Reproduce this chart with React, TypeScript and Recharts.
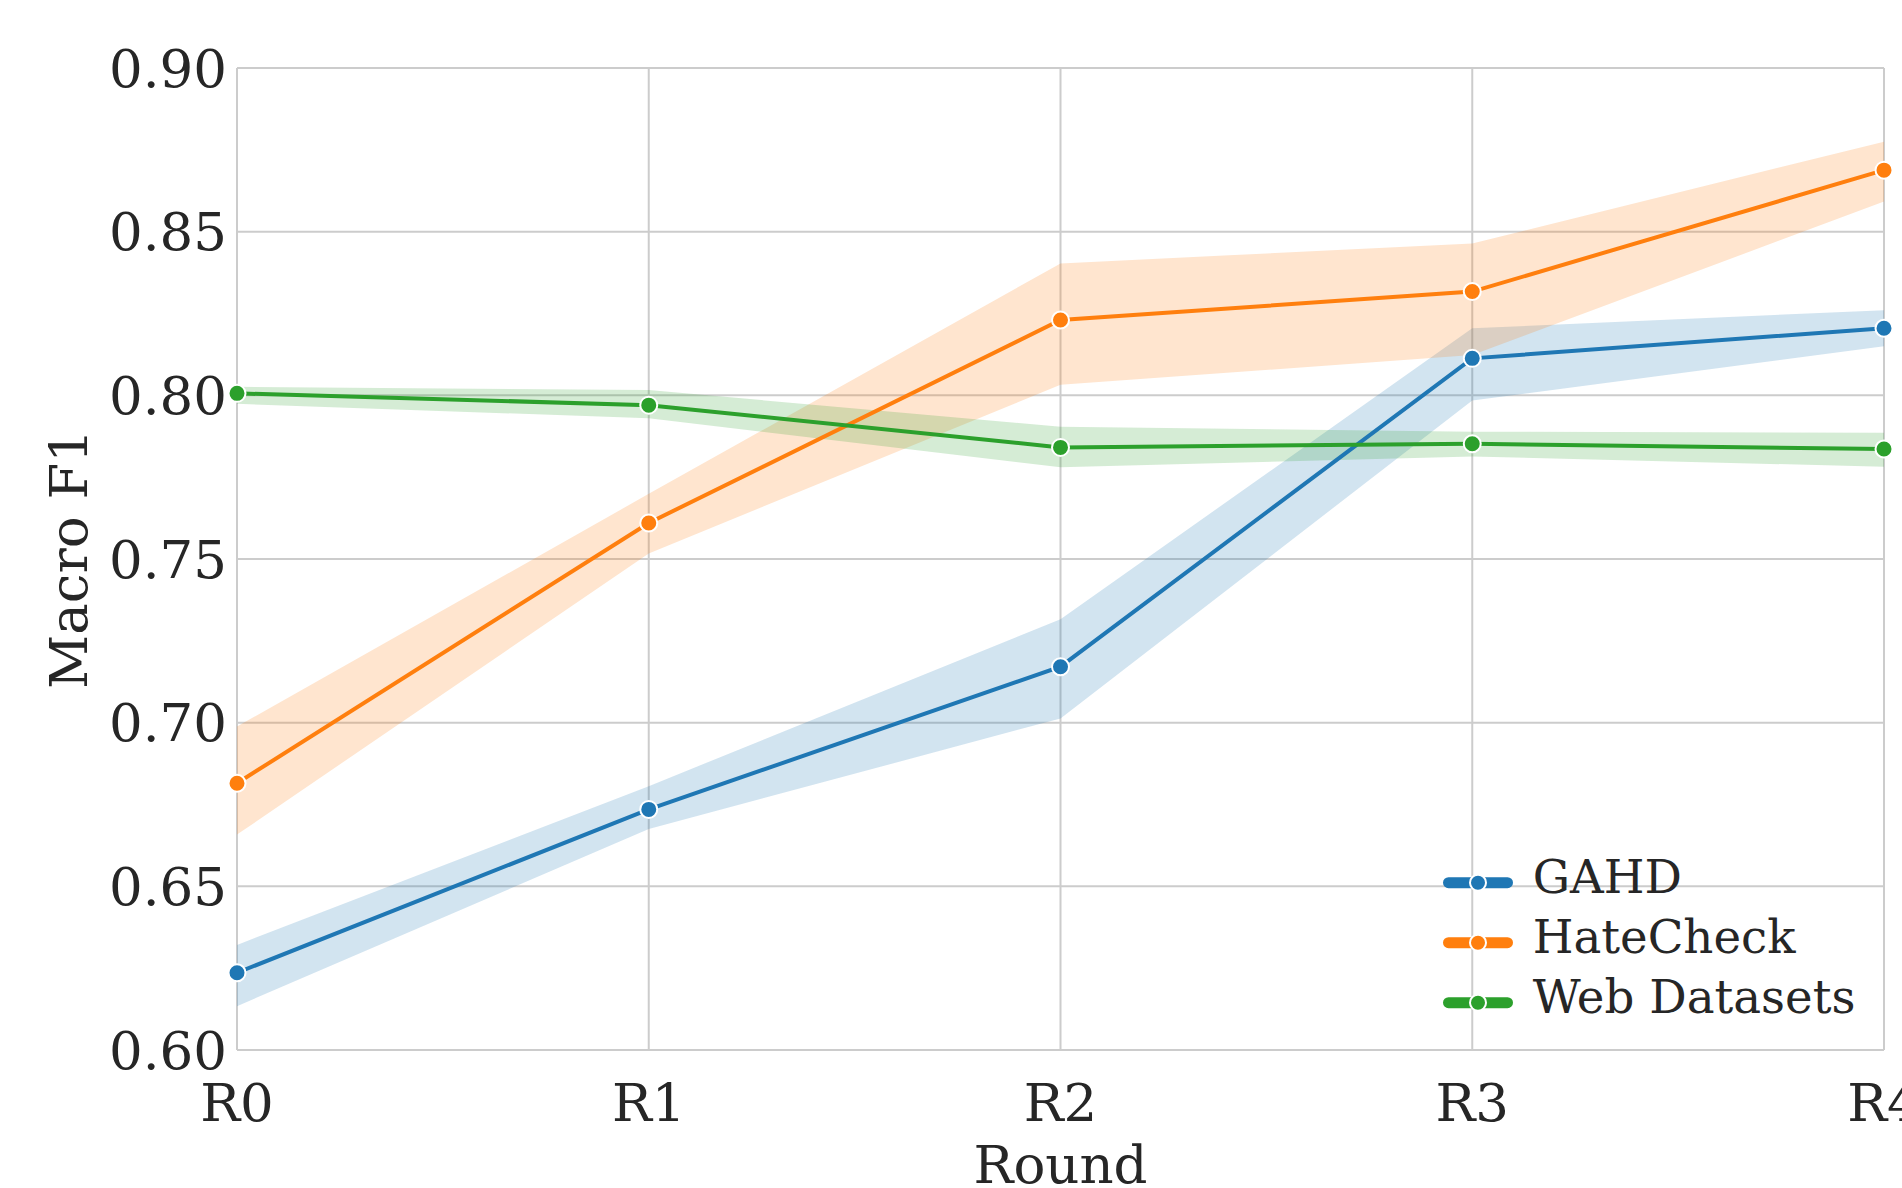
import React from 'react';
import { ComposedChart, Line, Area, XAxis, YAxis, CartesianGrid, Legend, Label } from 'recharts';

const rounds = ['R0', 'R1', 'R2', 'R3', 'R4'];
const yTicks = [0.6, 0.65, 0.7, 0.75, 0.8, 0.85, 0.9];

const gahdMean = [0.6236, 0.6735, 0.7171, 0.8113, 0.8205];
const gahdLow = [0.6134, 0.6675, 0.7013, 0.7984, 0.815];
const gahdHigh = [0.6321, 0.6806, 0.7316, 0.8205, 0.826];

const hateMean = [0.6815, 0.761, 0.823, 0.8317, 0.8688];
const hateLow = [0.6658, 0.7517, 0.8032, 0.8123, 0.8592];
const hateHigh = [0.6988, 0.7699, 0.8403, 0.8464, 0.8775];

const webMean = [0.8006, 0.797, 0.7841, 0.7852, 0.7836];
const webLow = [0.7974, 0.793, 0.778, 0.7813, 0.7782];
const webHigh = [0.8026, 0.8016, 0.7904, 0.7889, 0.7886];

const series = [
    { key: 'gahd', name: 'GAHD', color: '#1f77b4' },
    { key: 'hate', name: 'HateCheck', color: '#ff7f0e' },
    { key: 'web', name: 'Web Datasets', color: '#2ca02c' },
];

const data = rounds.map((r, i) => ({
    round: r,
    gahd: gahdMean[i],
    gahdBand: [gahdLow[i], gahdHigh[i]],
    hate: hateMean[i],
    hateBand: [hateLow[i], hateHigh[i]],
    web: webMean[i],
    webBand: [webLow[i], webHigh[i]],
}));

const FONT = 'DejaVu Serif';
const TEXT = '#262626';

function renderLegend() {
    return (
        <svg width={466} height={200} style={{ display: 'block' }}>
            {series.map((s, i) => {
                const cy = 42.7 + i * 60;
                return (
                    <g key={s.key}>
                        <line x1={12.5} x2={71.5} y1={cy} y2={cy} stroke={s.color} strokeWidth={11} strokeLinecap="round" />
                        <circle cx={42} cy={cy} r={8} fill={s.color} stroke="#fff" strokeWidth={2} />
                        <text x={96.7} y={cy + 10} fontSize={46.7} fontFamily={FONT} fill={TEXT}>{s.name}</text>
                    </g>
                );
            })}
        </svg>
    );
}

export default function App() {
    return (
        <div style={{ position: 'absolute', left: 0, top: 0, width: 1902, height: 1188, background: '#fff' }}>
            <ComposedChart width={1902} height={1188} data={data} margin={{ top: 68, right: 18, bottom: 0, left: 0 }}>
                <CartesianGrid stroke="#cccccc" strokeWidth={2} />
                <XAxis
                    dataKey="round"
                    type="category"
                    scale="point"
                    padding={{ left: 0, right: 0 }}
                    height={138}
                    interval={0}
                    axisLine={false}
                    tickLine={false}
                    tickSize={0}
                    tickMargin={33}
                    tick={{ fontSize: 53, fill: TEXT, fontFamily: FONT }}
                >
                    <Label
                        content={({ viewBox }: any) => (
                            <text x={viewBox.x + viewBox.width / 2} y={1183} textAnchor="middle" fontSize={53} fontFamily={FONT} fill={TEXT}>
                                Round
                            </text>
                        )}
                    />
                </XAxis>
                <YAxis
                    type="number"
                    domain={[0.6, 0.9]}
                    ticks={yTicks}
                    allowDataOverflow
                    width={237}
                    interval={0}
                    axisLine={false}
                    tickLine={false}
                    tickSize={0}
                    tickMargin={10}
                    tickFormatter={(v: number) => v.toFixed(2)}
                    tick={{ fontSize: 53, fill: TEXT, fontFamily: FONT }}
                >
                    <Label
                        content={() => (
                            <text x={87} y={559} transform="rotate(-90 87 559)" textAnchor="middle" fontSize={53} fontFamily={FONT} fill={TEXT}>
                                Macro F1
                            </text>
                        )}
                    />
                </YAxis>
                {series.map((s) => (
                    <Area
                        key={s.key + 'Band'}
                        type="linear"
                        dataKey={s.key + 'Band'}
                        fill={s.color}
                        fillOpacity={0.2}
                        stroke="none"
                        dot={false}
                        activeDot={false}
                        legendType="none"
                        isAnimationActive={false}
                    />
                ))}
                {series.map((s) => (
                    <Line
                        key={s.key}
                        type="linear"
                        dataKey={s.key}
                        name={s.name}
                        stroke={s.color}
                        strokeWidth={4}
                        dot={{ r: 8.5, fill: s.color, stroke: '#fff', strokeWidth: 2 }}
                        activeDot={false}
                        isAnimationActive={false}
                    />
                ))}
                <Legend
                    layout="vertical"
                    align="center"
                    verticalAlign="middle"
                    wrapperStyle={{ left: 1436, top: 840, width: 466, height: 200 }}
                    content={renderLegend}
                />
            </ComposedChart>
        </div>
    );
}
